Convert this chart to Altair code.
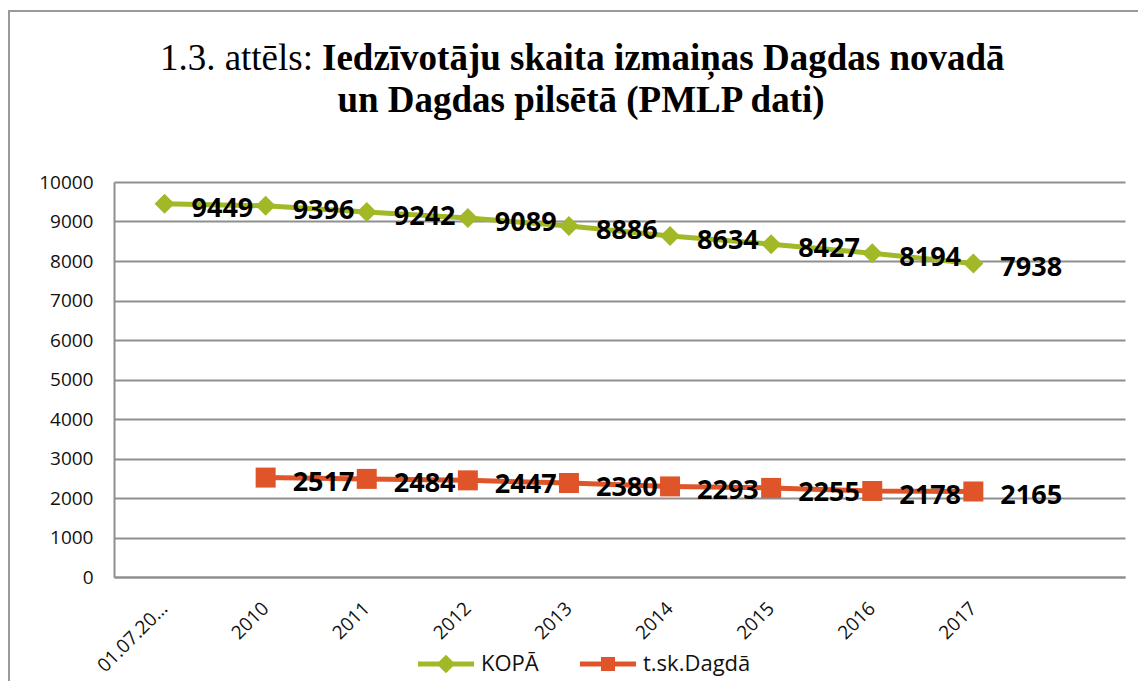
import altair as alt
import pandas as pd

categories = ["01.07.20…", "2010", "2011", "2012", "2013", "2014", "2015", "2016", "2017"]
kopa = [9449, 9396, 9242, 9089, 8886, 8634, 8427, 8194, 7938]
dagda = [None, 2517, 2484, 2447, 2380, 2293, 2255, 2178, 2165]
series_names = ["KOPĀ", "t.sk.Dagdā"]
colors = ["#A2B827", "#E0542A"]

title_normal = "1.3. attēls:"
title_bold_1 = "Iedzīvotāju skaita izmaiņas Dagdas novadā"
title_bold_2 = "un Dagdas pilsētā (PMLP dati)"

rows = []
for c, v in zip(categories, kopa):
    rows.append({"cat": c, "series": series_names[0], "value": v})
for c, v in zip(categories, dagda):
    if v is not None:
        rows.append({"cat": c, "series": series_names[1], "value": v})
df = pd.DataFrame(rows)

W, H = 1011, 395
grid_col = "#8f8f8f"
x_domain = categories + [" "]

x_enc = alt.X(
    "cat:N",
    sort=None,
    bandPosition=0.5,
    scale=alt.Scale(type="band", domain=x_domain, paddingInner=0, paddingOuter=0),
    axis=alt.Axis(
        title=None, labelAngle=-45, labelAlign="right", labelBaseline="middle",
        labelFont="Open Sans", labelFontSize=19, labelColor="#111111",
        labelPadding=28, ticks=False, grid=False, domain=True,
        domainColor=grid_col, domainWidth=2,
    ),
)
y_enc = alt.Y(
    "value:Q",
    scale=alt.Scale(domain=[0, 10000], nice=False),
    axis=alt.Axis(
        title=None, values=list(range(0, 10001, 1000)), format="d", grid=True,
        gridColor=grid_col, gridWidth=2, ticks=False, domain=True,
        domainColor=grid_col, domainWidth=2, labelFont="Open Sans",
        labelFontSize=19, labelColor="#111111", labelPadding=21,
    ),
)
color_scale = alt.Scale(domain=series_names, range=colors)

base = alt.Chart(df)

lines = base.mark_line(strokeWidth=5).encode(
    x=x_enc, y=y_enc,
    color=alt.Color("series:N", scale=color_scale, legend=None),
)

diamonds = base.transform_filter(alt.datum.series == series_names[0]).mark_point(
    shape="diamond", filled=True, size=400, opacity=1
).encode(x=x_enc, y=y_enc, color=alt.Color("series:N", scale=color_scale, legend=None))

squares = base.transform_filter(alt.datum.series == series_names[1]).mark_point(
    shape="square", filled=True, size=400, opacity=1
).encode(x=x_enc, y=y_enc, color=alt.Color("series:N", scale=color_scale, legend=None))

labels = base.mark_text(
    align="left", baseline="middle", dx=27, dy=5, font="Open Sans",
    fontSize=27, fontWeight="bold", color="#000000",
).encode(x=x_enc, y=y_enc, text=alt.Text("value:Q", format="d"))

path_d = "M-3,-0.27 L-0.73,-0.27 L0,-1 L0.73,-0.27 L3,-0.27 L3,0.27 L0.73,0.27 L0,1 L-0.73,0.27 L-3,0.27 Z"
path_s = ("M-3,-0.27 L-0.75,-0.27 L-0.75,-0.75 L0.75,-0.75 L0.75,-0.27 L3,-0.27 L3,0.27 "
          "L0.75,0.27 L0.75,0.75 L-0.75,0.75 L-0.75,0.27 L-3,0.27 Z")
leg = alt.Legend(
    title=None, orient="none", legendX=321, legendY=471, direction="horizontal",
    labelFont="Open Sans", labelFontSize=22, labelColor="#111111",
    labelOffset=24, columnPadding=40, symbolSize=350, symbolStrokeWidth=0, padding=0,
)
legend_layer = base.transform_filter("false").mark_point(filled=True, size=350, opacity=1).encode(
    x=x_enc, y=y_enc,
    color=alt.Color("series:N", scale=color_scale, legend=leg),
    shape=alt.Shape("series:N", scale=alt.Scale(domain=series_names, range=[path_d, path_s]), legend=leg),
)

tdf = pd.DataFrame({"a": [0]})
t1 = alt.Chart(tdf).mark_text(
    align="right", baseline="alphabetic", font="Liberation Serif", fontSize=37, color="#000000"
).encode(x=alt.value(199), y=alt.value(-112), text=alt.value(title_normal))
t2 = alt.Chart(tdf).mark_text(
    align="left", baseline="alphabetic", font="Liberation Serif", fontSize=37,
    fontWeight="bold", color="#000000"
).encode(x=alt.value(208), y=alt.value(-112), text=alt.value(title_bold_1))
t3 = alt.Chart(tdf).mark_text(
    align="center", baseline="alphabetic", font="Liberation Serif", fontSize=37,
    fontWeight="bold", color="#000000"
).encode(x=alt.value(467), y=alt.value(-70), text=alt.value(title_bold_2))

border = alt.Chart(tdf).mark_rect(fillOpacity=0, stroke="#9a9a9a", strokeWidth=2).encode(
    x=alt.value(-105), y=alt.value(-171), x2=alt.value(1200), y2=alt.value(700)
)

chart = alt.layer(
    border, legend_layer, lines, diamonds, squares, labels, t1, t2, t3
).resolve_legend(
    color="independent", shape="independent"
).properties(
    width=W, height=H,
    autosize=alt.AutoSizeParams(type="none"),
    padding={"left": 106, "top": 174, "right": 13, "bottom": 104},
    background="white",
).configure_view(stroke=None)

chart.save("out.html", embed_options={"renderer": "svg", "actions": False})
